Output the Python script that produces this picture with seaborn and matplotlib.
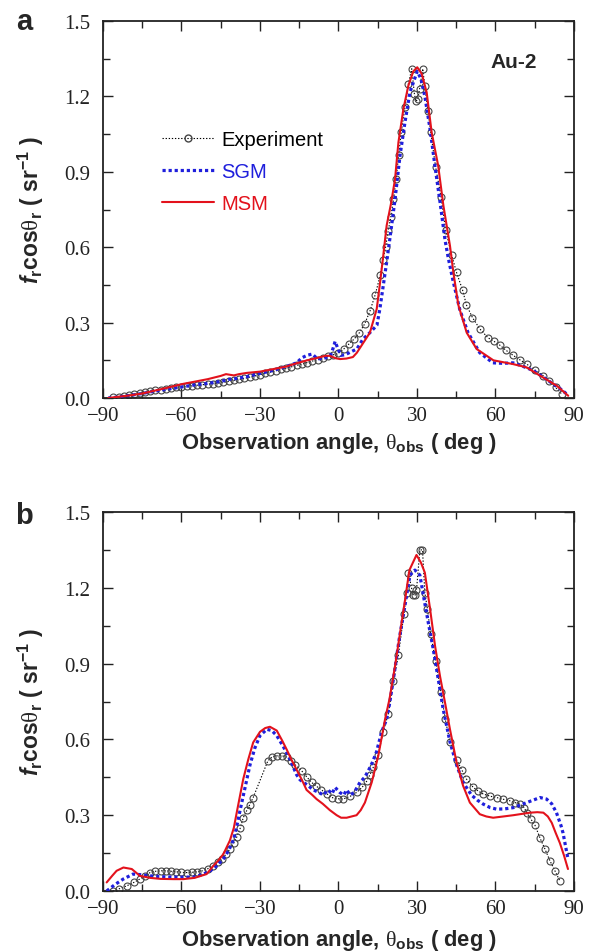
import numpy as np
import pandas as pd
import matplotlib
matplotlib.use("Agg")
import matplotlib.pyplot as plt
from matplotlib.lines import Line2D
from matplotlib.ticker import MultipleLocator
import seaborn as sns

# ---------------- data ----------------
# Panel a (Au-2)
exp_a_x = [-86, -84, -82, -80, -78, -76, -74, -72, -70, -68, -66, -64, -62, -60, -58, -56, -54, -52, -50,
           -48, -46, -44, -42, -40, -38, -36, -34, -32, -30, -28, -26, -24, -22, -20, -18, -16, -14, -12,
           -10, -8, -6, -4, -2, 0, 2, 4, 6, 8, 10, 12, 14, 16, 17, 18, 19, 20, 21, 22, 23, 24, 25.4, 26.7,
           28, 29, 29.6, 30.3, 31, 32.2, 33, 34.2, 35.2, 37.1, 39.2, 40.9, 43.2, 45.1, 47.4, 48.9, 51.2,
           54, 57.1, 59.5, 61.7, 64, 66.7, 69.3, 71.9, 75, 78.2, 80.5, 83, 85.3]
exp_a_y = [0.003, 0.006, 0.009, 0.012, 0.015, 0.019, 0.022, 0.026, 0.030, 0.033, 0.036, 0.039, 0.042, 0.045,
           0.047, 0.049, 0.051, 0.053, 0.055, 0.057, 0.059, 0.062, 0.066, 0.070, 0.074, 0.078, 0.083, 0.088,
           0.093, 0.098, 0.103, 0.108, 0.114, 0.119, 0.124, 0.130, 0.135, 0.141, 0.147, 0.153, 0.160, 0.166,
           0.172, 0.178, 0.195, 0.215, 0.235, 0.260, 0.295, 0.345, 0.410, 0.490, 0.550, 0.600, 0.666, 0.72,
           0.79, 0.87, 0.965, 1.06, 1.157, 1.25, 1.31, 1.21, 1.18, 1.19, 1.23, 1.31, 1.24, 1.14, 1.06, 0.92,
           0.80, 0.67, 0.57, 0.50, 0.43, 0.37, 0.32, 0.275, 0.24, 0.225, 0.21, 0.19, 0.17, 0.152, 0.135, 0.112,
           0.089, 0.068, 0.042, 0.016]

sgm_a_x = [-88, -85, -80, -75, -70, -65, -60, -55, -50, -45, -42, -40, -35, -30, -25, -20, -16, -14, -12,
           -10, -8, -5, -3, -2, -1.3, 0, 1, 2.5, 5, 7, 9.4, 12, 14.7, 15.8, 17.1, 18.4, 20.3, 21.6, 23.5,
           25.4, 27.3, 30.1, 31.5, 33, 35, 36.9, 38.8, 40.7, 41.9, 43.7, 46.4, 49.5, 54, 59, 63, 66.7, 70,
           74.3, 78, 82, 85, 87.2]
sgm_a_y = [0.0, 0.003, 0.010, 0.018, 0.028, 0.036, 0.044, 0.052, 0.058, 0.066, 0.074, 0.076, 0.085, 0.098,
           0.110, 0.125, 0.140, 0.160, 0.170, 0.175, 0.155, 0.160, 0.170, 0.200, 0.225, 0.190, 0.170, 0.172,
           0.185, 0.195, 0.235, 0.26, 0.29, 0.354, 0.447, 0.54, 0.686, 0.79, 0.964, 1.097, 1.216, 1.30, 1.27,
           1.20, 1.07, 0.92, 0.78, 0.63, 0.56, 0.47, 0.35, 0.26, 0.18, 0.14, 0.138, 0.14, 0.128, 0.11, 0.085,
           0.056, 0.035, 0.016]

msm_a_x = [-88, -85, -80, -75, -70, -65, -60, -55, -50, -45, -43, -40, -38, -35, -30, -25, -20, -17, -12,
           -8, -5, -3.3, -1, 0.6, 3, 5.5, 7, 9.5, 12, 14.6, 15.9, 17.1, 18.4, 20, 21.6, 22.9, 24.8, 26.7,
           28.6, 30.1, 31.8, 33.7, 35.6, 38.1, 40.1, 42.6, 43.9, 45.8, 49, 52.8, 59.2, 66.7, 71.9, 77,
           83.4, 87.8]
msm_a_y = [0.0, 0.004, 0.010, 0.018, 0.030, 0.042, 0.055, 0.065, 0.075, 0.088, 0.095, 0.090, 0.095, 0.100,
           0.105, 0.115, 0.125, 0.135, 0.150, 0.160, 0.168, 0.168, 0.158, 0.155, 0.157, 0.163, 0.180, 0.220,
           0.260, 0.354, 0.460, 0.566, 0.686, 0.77, 0.87, 1.017, 1.15, 1.243, 1.30, 1.316, 1.29, 1.216, 1.057,
           0.924, 0.765, 0.606, 0.50, 0.37, 0.26, 0.195, 0.15, 0.135, 0.122, 0.089, 0.049, 0.009]

# Panel b
exp_b_x = [-86.2, -84, -81, -78, -76, -74, -72, -70, -68, -66, -64, -62, -60, -58, -56, -54, -52, -50, -48,
           -46, -44.6, -43, -41.5, -40, -38.9, -37.5, -36.4, -35, -34, -32.6, -27, -25.5, -23.6, -21.5,
           -19.8, -18, -16.6, -14.1, -12, -10.3, -8.5, -6.5, -4.5, -2.6, 0, 1.8, 4.5, 6.9, 9, 10.8, 12,
           13.3, 15.2, 17.1, 19, 21, 22.9, 25, 26, 26.7, 27.9, 28.6, 29.2, 29.8, 31.1, 32.1, 33, 34, 35.2,
           37.1, 39.2, 40.8, 42.6, 45.1, 47.1, 48.9, 51.5, 53.5, 55.3, 58, 60.4, 63, 65.5, 67.5, 69.3, 71,
           71.9, 73.5, 75.1, 77, 78.9, 80.8, 82.7, 84.6]
exp_b_y = [0.0, 0.008, 0.02, 0.035, 0.047, 0.06, 0.073, 0.078, 0.08, 0.08, 0.078, 0.076, 0.074, 0.073, 0.074,
           0.076, 0.08, 0.088, 0.10, 0.115, 0.127, 0.145, 0.166, 0.19, 0.213, 0.25, 0.29, 0.32, 0.34, 0.37,
           0.515, 0.53, 0.535, 0.535, 0.53, 0.515, 0.50, 0.476, 0.45, 0.43, 0.415, 0.40, 0.385, 0.37, 0.365,
           0.364, 0.375, 0.39, 0.41, 0.435, 0.46, 0.49, 0.54, 0.63, 0.70, 0.83, 0.934, 1.096, 1.18, 1.26,
           1.20, 1.17, 1.17, 1.19, 1.35, 1.35, 1.18, 1.116, 1.017, 0.91, 0.786, 0.68, 0.59, 0.52, 0.48, 0.443,
           0.41, 0.395, 0.384, 0.375, 0.37, 0.363, 0.357, 0.35, 0.344, 0.33, 0.31, 0.285, 0.26, 0.21, 0.166,
           0.12, 0.08, 0.04]

sgm_b_x = [-88.6, -85.5, -82.3, -78.5, -76, -72, -68, -63, -58, -55.6, -52, -49, -46.5, -44, -42, -40, -38.8,
           -37.6, -35.7, -33.8, -32, -30, -27.4, -25.5, -23.6, -21, -18.5, -16, -14.7, -12, -9.6, -7.5, -5.8,
           -4, -2.5, -1.3, 0.5, 2, 3.1, 4.5, 6, 8.2, 10, 11.4, 13, 14.5, 16.5, 18.4, 19.5, 21, 23.2, 25.4,
           27.3, 29.2, 31.1, 32.7, 34.3, 36.2, 38.1, 40, 42.6, 45.1, 47.6, 50.8, 53, 55.3, 58, 60.4, 63.5,
           66.8, 69.5, 71.9, 74.5, 77, 79.5, 81.5, 83.3, 85, 85.8, 87.7]
sgm_b_y = [0.0, 0.025, 0.047, 0.067, 0.065, 0.06, 0.057, 0.055, 0.055, 0.055, 0.065, 0.08, 0.10, 0.127, 0.16,
           0.206, 0.26, 0.32, 0.41, 0.50, 0.565, 0.615, 0.64, 0.635, 0.615, 0.57, 0.52, 0.46, 0.44, 0.42,
           0.40, 0.39, 0.38, 0.40, 0.385, 0.41, 0.39, 0.38, 0.40, 0.38, 0.39, 0.43, 0.45, 0.476, 0.51, 0.55,
           0.63, 0.68, 0.74, 0.84, 0.997, 1.13, 1.25, 1.27, 1.25, 1.155, 1.063, 0.958, 0.84, 0.72, 0.59,
           0.50, 0.43, 0.38, 0.36, 0.344, 0.33, 0.324, 0.325, 0.33, 0.34, 0.35, 0.36, 0.37, 0.364, 0.345,
           0.31, 0.26, 0.23, 0.127]

msm_b_x = [-88.6, -86.5, -84.8, -82.2, -79, -75.9, -72, -68, -63, -59.3, -55, -50.4, -47.8, -46, -44, -41.5,
           -40, -38.9, -36.4, -34.5, -32.6, -30, -28, -26.2, -23.6, -21.5, -19.8, -18, -16, -14, -12.2, -10,
           -8.4, -6, -3.3, -0.7, 1, 3.1, 5, 6.9, 8.5, 10.1, 12.7, 15.2, 17.8, 19.5, 21.6, 23.5, 25.4, 27.1,
           29.8, 31.5, 33, 35, 36.9, 38.8, 40.7, 42.6, 45.1, 47.6, 50.2, 54, 56.5, 59.1, 63, 66.8, 70, 73.2,
           76, 78.3, 80, 81.5, 83, 84.6, 86.2, 87.7]
msm_b_y = [0.034, 0.06, 0.08, 0.093, 0.087, 0.06, 0.052, 0.048, 0.047, 0.047, 0.052, 0.067, 0.10, 0.12, 0.146,
           0.20, 0.25, 0.31, 0.443, 0.52, 0.588, 0.63, 0.645, 0.65, 0.635, 0.595, 0.56, 0.52, 0.48, 0.44,
           0.40, 0.38, 0.364, 0.345, 0.32, 0.30, 0.29, 0.29, 0.295, 0.30, 0.32, 0.35, 0.43, 0.535, 0.68,
           0.76, 0.89, 1.02, 1.15, 1.27, 1.33, 1.30, 1.26, 1.116, 0.97, 0.85, 0.746, 0.64, 0.51, 0.417, 0.35,
           0.304, 0.295, 0.29, 0.295, 0.30, 0.305, 0.31, 0.312, 0.31, 0.295, 0.27, 0.23, 0.19, 0.14, 0.087]

series_labels = ["Experiment", "SGM", "MSM"]
x_ticks = [-90, -60, -30, 0, 30, 60, 90]
x_ticklabels = ["\u221290", "\u221260", "\u221230", "0", "30", "60", "90"]
y_ticks = [0.0, 0.3, 0.6, 0.9, 1.2, 1.5]
y_ticklabels = ["0.0", "0.3", "0.6", "0.9", "1.2", "1.5"]
panel_letters = ["a", "b"]
sample_name = "Au-2"

# ---------------- style ----------------
sns.set_style("ticks")
plt.rcParams["font.family"] = ["Liberation Sans", "DejaVu Sans"]
plt.rcParams["mathtext.fontset"] = "custom"
plt.rcParams["mathtext.rm"] = "Liberation Sans:bold"
plt.rcParams["mathtext.bf"] = "Liberation Sans:bold"
plt.rcParams["mathtext.it"] = "Liberation Sans:italic:bold"
plt.rcParams["mathtext.sf"] = "Liberation Serif"

BLUE = "#1f1fdc"
RED = "#e3121c"

fig = plt.figure(figsize=(5.95, 9.53), dpi=100)
axes = [fig.add_axes([0.1731, 0.5813, 0.7916, 0.3956]),
        fig.add_axes([0.1731, 0.0640, 0.7916, 0.3977])]

panels = [
    (exp_a_x, exp_a_y, sgm_a_x, sgm_a_y, msm_a_x, msm_a_y),
    (exp_b_x, exp_b_y, sgm_b_x, sgm_b_y, msm_b_x, msm_b_y),
]

for i, (ax, (ex, ey, sx, sy, mx, my)) in enumerate(zip(axes, panels)):
    d_exp = pd.DataFrame({"x": ex, "y": ey})
    d_sgm = pd.DataFrame({"x": sx, "y": sy})
    d_msm = pd.DataFrame({"x": mx, "y": my})
    sns.lineplot(data=d_exp, x="x", y="y", ax=ax, color="black", lw=0.8,
                 linestyle=(0, (1.2, 1.6)), marker="o", markersize=5,
                 markerfacecolor="none", markeredgecolor="#444444", markeredgewidth=0.8,
                 estimator=None, zorder=2)
    sns.lineplot(data=d_sgm, x="x", y="y", ax=ax, color=BLUE, lw=2.3,
                 linestyle=(0, (1.0, 0.9)), estimator=None, zorder=3)
    sns.lineplot(data=d_msm, x="x", y="y", ax=ax, color=RED, lw=1.5,
                 linestyle="-", estimator=None, zorder=4)

    ax.set_xlim(-90, 90)
    ax.set_ylim(0, 1.5)
    ax.set_xticks(x_ticks)
    ax.set_xticklabels(x_ticklabels, family="Liberation Serif", fontsize=15)
    ax.set_yticks(y_ticks)
    ax.set_yticklabels(y_ticklabels, family="Liberation Serif", fontsize=15)
    ax.xaxis.set_minor_locator(MultipleLocator(15))
    ax.yaxis.set_minor_locator(MultipleLocator(0.15))
    ax.tick_params(which="both", direction="in", top=True, right=True, colors="#222222",
                   width=1.0)
    ax.tick_params(which="major", length=7)
    ax.tick_params(which="minor", length=5)
    ax.tick_params(axis="x", which="major", pad=6)
    ax.tick_params(axis="y", which="major", pad=9)
    for sp in ax.spines.values():
        sp.set_linewidth(1.3)
        sp.set_color("#222222")

    ax.set_xlabel(r"Observation angle, $\mathsf{\theta}_{\rm obs}$ ( deg )", fontsize=15.8,
                  fontweight="bold")
    ax.set_ylabel(r"$f_{\rm r}$cos$\mathsf{\theta}_{\rm r}$ ( sr$^{-1}$ )", fontsize=16.5,
                  fontweight="bold")
    ax.yaxis.set_label_coords(-0.122, 0.5)
    ax.xaxis.set_label_coords(0.5, -0.086 if i == 0 else -0.096)

fig.text(24 / 595, 1 - 22 / 953, panel_letters[0], fontsize=21, fontweight="bold",
         ha="center", va="center")
fig.text(24 / 595, 1 - 516 / 953, panel_letters[1], fontsize=21, fontweight="bold",
         ha="center", va="center")

axes[0].text(0.872, 0.893, sample_name, transform=axes[0].transAxes, fontsize=15,
             fontweight="bold", ha="center", va="center")

handles = [
    Line2D([], [], color="black", lw=0.8, linestyle=(0, (1.2, 1.6)), marker="o",
           markersize=5, markerfacecolor="none", markeredgecolor="#444444"),
    Line2D([], [], color=BLUE, lw=2.3, linestyle=(0, (1.0, 0.9))),
    Line2D([], [], color=RED, lw=1.5),
]
axes[0].legend(handles, series_labels, loc="upper left", bbox_to_anchor=(0.125, 0.712),
               frameon=False, fontsize=14.5, handlelength=2.6, handletextpad=0.35,
               labelspacing=0.66, borderpad=0, borderaxespad=0, numpoints=1,
               labelcolor=["black", BLUE, RED])

fig.savefig("out.png", dpi=100)
